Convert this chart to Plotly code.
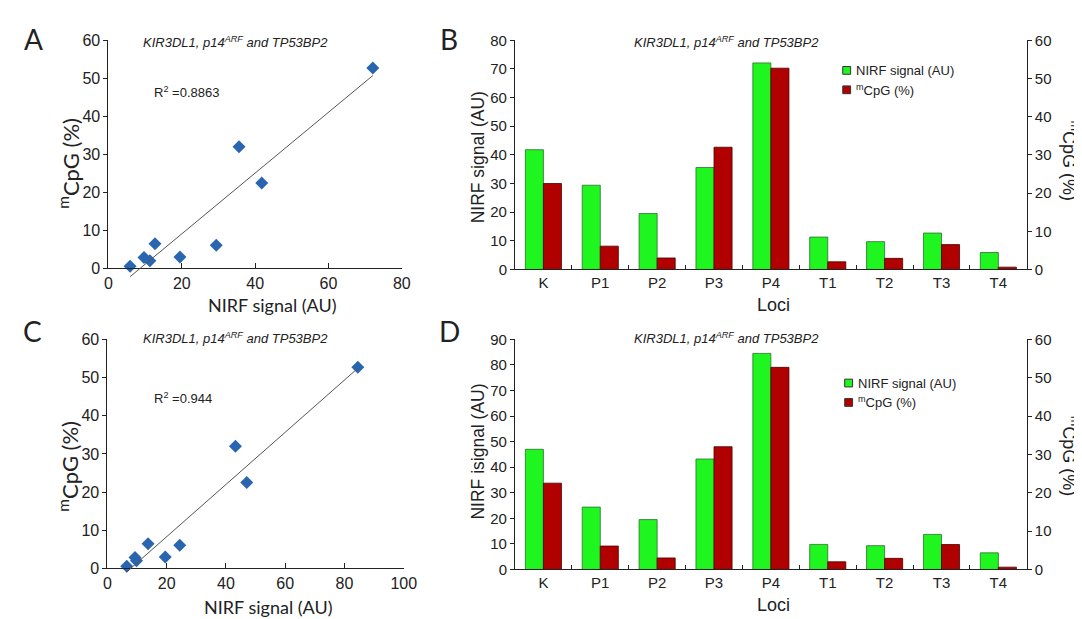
import numpy as np
import plotly.graph_objects as go

W, H = 1082, 619

loci = ["K", "P1", "P2", "P3", "P4", "T1", "T2", "T3", "T4"]
nirf_b = [41.8, 29.4, 19.5, 35.6, 72.1, 11.3, 9.7, 12.7, 5.9]
nirf_d = [47.0, 24.4, 19.5, 43.2, 84.5, 9.8, 9.3, 13.7, 6.5]
mcpg = [22.5, 6.1, 3.0, 32.0, 52.7, 2.0, 2.9, 6.5, 0.6]
r2_a = "0.8863"
r2_c = "0.944"
title_txt = "<i>KIR3DL1, p14<sup>ARF</sup> and TP53BP2</i>"


def px(x):
    return x / W


def py(y):
    return 1 - y / H


GREEN = "#1ff51f"
GREEN_EDGE = "#2c6e2c"
RED = "#b10000"
RED_EDGE = "#4a0000"
BLUE = "#2a66b0"
INK = "#222222"
SANS = "Liberation Sans, Arial, sans-serif"
LATO = "Lato, sans-serif"

# panel geometry (pixels)
A = dict(x0=98, x1=396, y0=24, y1=259)
B = dict(x0=511, x1=1031, y0=24, y1=260)
C = dict(x0=97, x1=398, y0=332, y1=568)
D = dict(x0=511, x1=1031, y0=332, y1=569)

fig = go.Figure()

# ---- scatter A ----
fig.add_trace(go.Scatter(x=nirf_b, y=mcpg, mode="markers", xaxis="x", yaxis="y",
                         marker=dict(symbol="diamond", size=10, color=BLUE),
                         cliponaxis=False, showlegend=False))
# ---- scatter C ----
fig.add_trace(go.Scatter(x=nirf_d, y=mcpg, mode="markers", xaxis="x3", yaxis="y4",
                         marker=dict(symbol="diamond", size=10, color=BLUE),
                         cliponaxis=False, showlegend=False))

# regression lines on helper axes (so they may dip slightly below the axis)
for xs, ax, ay in [(nirf_b, "x5", "y7"), (nirf_d, "x6", "y8")]:
    k, b = np.polyfit(np.array(xs), np.array(mcpg), 1)
    lx = np.array([min(xs), max(xs)])
    fig.add_trace(go.Scatter(x=lx, y=k * lx + b, mode="lines", xaxis=ax, yaxis=ay,
                             line=dict(color="#555555", width=1), showlegend=False,
                             hoverinfo="skip"))

# ---- bars B ----
bw = 0.3175
fig.add_trace(go.Bar(x=loci, y=nirf_b, xaxis="x2", yaxis="y2", width=bw, offset=-bw,
                     marker=dict(color=GREEN, line=dict(color=GREEN_EDGE, width=0.8)),
                     name="NIRF signal (AU)", showlegend=False))
fig.add_trace(go.Bar(x=loci, y=mcpg, xaxis="x2", yaxis="y3", width=bw, offset=0,
                     marker=dict(color=RED, line=dict(color=RED_EDGE, width=0.8)),
                     name="mCpG (%)", showlegend=False))
# ---- bars D ----
fig.add_trace(go.Bar(x=loci, y=nirf_d, xaxis="x4", yaxis="y5", width=bw, offset=-bw,
                     marker=dict(color=GREEN, line=dict(color=GREEN_EDGE, width=0.8)),
                     name="NIRF signal (AU)", showlegend=False))
fig.add_trace(go.Bar(x=loci, y=mcpg, xaxis="x4", yaxis="y6", width=bw, offset=0,
                     marker=dict(color=RED, line=dict(color=RED_EDGE, width=0.8)),
                     name="mCpG (%)", showlegend=False))


def xdom(P):
    return [px(P["x0"]), px(P["x1"])]


def ydom(P, extra=0):
    return [py(P["y1"] + extra), py(P["y0"])]


yax_common = dict(showgrid=False, zeroline=False, showline=True, linecolor=INK, linewidth=1,
                  ticks="outside", ticklen=4, tickcolor=INK, tickfont=dict(family=SANS, size=16, color=INK))
xsc_common = dict(showgrid=False, zeroline=False, showline=True, linecolor=INK, linewidth=1,
                  ticks="inside", ticklen=5, tickcolor=INK, tickfont=dict(family=SANS, size=16, color=INK))
bar_x = dict(type="category", showgrid=False, zeroline=False, showline=True, linecolor=INK,
             linewidth=1, ticks="inside", ticklen=4, tickcolor=INK, tickson="boundaries",
             range=[-0.5, 8.5], tickfont=dict(family=SANS, size=15, color=INK))
bar_y = dict(showgrid=False, zeroline=False, showline=True, linecolor=INK, linewidth=1,
             ticks="outside", ticklen=4, tickcolor=INK, tickfont=dict(family=SANS, size=15, color=INK))

ext_a = 12
ext_c = 6
fig.update_layout(
    width=W, height=H, margin=dict(l=0, r=0, t=0, b=0),
    paper_bgcolor="white", plot_bgcolor="rgba(0,0,0,0)",
    barmode="overlay",
    xaxis=dict(domain=xdom(A), anchor="y", range=[0, 80], dtick=20, **xsc_common),
    yaxis=dict(domain=ydom(A), anchor="x", range=[0, 60], dtick=10, **yax_common),
    xaxis3=dict(domain=xdom(C), anchor="y4", range=[0, 100], dtick=20, **xsc_common),
    yaxis4=dict(domain=ydom(C), anchor="x3", range=[0, 60], dtick=10, **yax_common),
    xaxis2=dict(domain=xdom(B), anchor="y2", **bar_x),
    yaxis2=dict(domain=ydom(B), anchor="x2", range=[0, 80], dtick=10, **bar_y),
    yaxis3=dict(overlaying="y2", side="right", anchor="x2", range=[0, 60], dtick=10, **bar_y),
    xaxis4=dict(domain=xdom(D), anchor="y5", **bar_x),
    yaxis5=dict(domain=ydom(D), anchor="x4", range=[0, 90], dtick=10, **bar_y),
    yaxis6=dict(overlaying="y5", side="right", anchor="x4", range=[0, 60], dtick=10, **bar_y),
    xaxis5=dict(domain=xdom(A), anchor="y7", range=[0, 80], visible=False),
    yaxis7=dict(domain=ydom(A, ext_a), anchor="x5",
                range=[-ext_a * 60 / (A["y1"] - A["y0"]), 60], visible=False),
    xaxis6=dict(domain=xdom(C), anchor="y8", range=[0, 100], visible=False),
    yaxis8=dict(domain=ydom(C, ext_c), anchor="x6",
                range=[-ext_c * 60 / (C["y1"] - C["y0"]), 60], visible=False),
)

ann = []


def text(x, y, t, size, family=SANS, angle=0, xanchor="center", color=INK):
    ann.append(dict(x=px(x), y=py(y), xref="paper", yref="paper", text=t, showarrow=False,
                    font=dict(family=family, size=size, color=color), textangle=angle,
                    xanchor=xanchor, yanchor="middle"))


# panel letters
text(22, 23, "A", 28, LATO)
text(444, 23, "B", 28, LATO)
text(21, 323, "C", 28, LATO)
text(444, 323, "D", 28, LATO)

# panel titles
text(227, 26, title_txt, 13)
text(726, 26, title_txt, 13)
text(227, 331, title_txt, 13)
text(726, 331, title_txt, 13)

# R² labels
text(142, 77, "R<sup>2</sup> =" + r2_a, 13, xanchor="left")
text(142, 392, "R<sup>2</sup> =" + r2_c, 13, xanchor="left")

# scatter axis titles
text(265, 297, "NIRF signal (AU)", 18, LATO)
text(58, 151, "<sup>m</sup>CpG (%)", 22, LATO, angle=-90)
text(261, 608, "NIRF signal (AU)", 18, LATO)
text(57, 463, "<sup>m</sup>CpG (%)", 22, LATO, angle=-90)

# bar axis titles
text(774, 297, "Loci", 18)
text(473, 145, "NIRF signal (AU)", 17.5, angle=-90)
text(1075, 148, "<sup>m</sup>CpG (%)", 18, angle=90)
text(774, 606, "Loci", 18)
text(473, 448, "NIRF isignal (AU)", 17.5, angle=-90)
text(1075, 452, "<sup>m</sup>CpG (%)", 18, angle=90)

# legends (swatch + label)
shapes = []


def legend_item(cx, cy, color, edge, label):
    shapes.append(dict(type="rect", xref="paper", yref="paper",
                       x0=px(cx - 4), x1=px(cx + 4), y0=py(cy + 4), y1=py(cy - 4),
                       fillcolor=color, line=dict(color=edge, width=1)))
    text(cx + 7, cy, label, 13, xanchor="left")


legend_item(848, 55, GREEN, "#333333", "NIRF signal (AU)")
legend_item(848, 75, RED, "#333333", "<sup>m</sup>CpG (%)")
legend_item(850, 377, GREEN, "#333333", "NIRF signal (AU)")
legend_item(850, 397, RED, "#333333", "<sup>m</sup>CpG (%)")

fig.update_layout(annotations=ann, shapes=shapes)

fig.write_html("out.html")
